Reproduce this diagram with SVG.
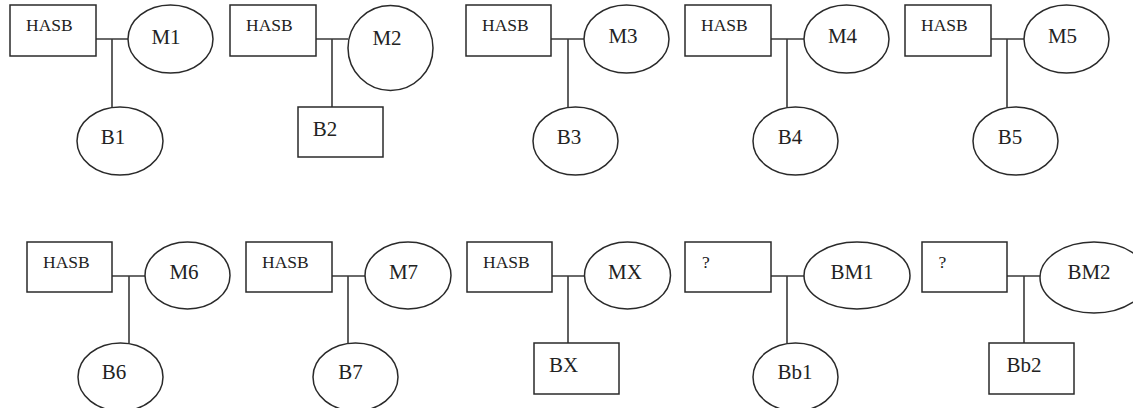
<svg xmlns="http://www.w3.org/2000/svg" width="1133" height="408" viewBox="0 0 1133 408">
  <style>
    .box { fill: #fff; stroke: #2a2a2a; stroke-width: 1.5; }
    .oval { fill: #fff; stroke: #2a2a2a; stroke-width: 1.5; }
    .wire { fill: none; stroke: #3a3a3a; stroke-width: 1.6; }
    .tag { font-family: "Liberation Serif", "Times New Roman", serif; font-size: 17.5px; fill: #222; }
    .lbl { font-family: "Liberation Serif", "Times New Roman", serif; font-size: 21px; fill: #222; text-anchor: middle; }
  </style>
  <rect width="1133" height="408" fill="#fff"/>

  <!-- connectors: horizontal link box→oval, vertical drop to child -->
  <g id="connectors">
    <path class="wire" d="M96 39H128M112 39V107"/>
    <path class="wire" d="M316 39H348M332 39V107"/>
    <path class="wire" d="M551 39H584M568 39V107"/>
    <path class="wire" d="M771 39H804M787 39V107"/>
    <path class="wire" d="M991 39H1024M1007 39V107"/>
    <path class="wire" d="M112 276H145M129 276V343"/>
    <path class="wire" d="M332 276H365M348 276V343"/>
    <path class="wire" d="M552 276H584M568 276V343"/>
    <path class="wire" d="M771 276H804M787 276V343"/>
    <path class="wire" d="M1007 276H1040M1024 276V343"/>
  </g>

  <!-- row 1 -->
  <g id="hasb1"><rect class="box" x="10" y="5" width="86" height="51"/><text class="tag" x="26" y="31">HASB</text></g>
  <g id="m1"><ellipse class="oval" cx="170.5" cy="39" rx="42.5" ry="34"/><text class="lbl" x="166" y="44">M1</text></g>
  <g id="b1"><ellipse class="oval" cx="120" cy="141" rx="43" ry="34"/><text class="lbl" x="113" y="144">B1</text></g>

  <g id="hasb2"><rect class="box" x="230" y="5" width="86" height="51"/><text class="tag" x="246" y="31">HASB</text></g>
  <g id="m2"><circle class="oval" cx="390.5" cy="48" r="42.5"/><text class="lbl" x="387" y="45">M2</text></g>
  <g id="b2"><rect class="box" x="298" y="107" width="85" height="50"/><text class="lbl" x="325" y="136">B2</text></g>

  <g id="hasb3"><rect class="box" x="466" y="5" width="85" height="51"/><text class="tag" x="482" y="31">HASB</text></g>
  <g id="m3"><ellipse class="oval" cx="626.5" cy="39" rx="42.5" ry="34"/><text class="lbl" x="623" y="43">M3</text></g>
  <g id="b3"><ellipse class="oval" cx="575.5" cy="141" rx="42.5" ry="34"/><text class="lbl" x="569" y="144">B3</text></g>

  <g id="hasb4"><rect class="box" x="685" y="5" width="86" height="51"/><text class="tag" x="701" y="31">HASB</text></g>
  <g id="m4"><ellipse class="oval" cx="846.5" cy="39" rx="42.5" ry="34"/><text class="lbl" x="842.5" y="43">M4</text></g>
  <g id="b4"><ellipse class="oval" cx="795.5" cy="141" rx="42.5" ry="34"/><text class="lbl" x="790" y="144">B4</text></g>

  <g id="hasb5"><rect class="box" x="905" y="5" width="86" height="51"/><text class="tag" x="921" y="31">HASB</text></g>
  <g id="m5"><ellipse class="oval" cx="1066.5" cy="39" rx="42.5" ry="34"/><text class="lbl" x="1062.5" y="43">M5</text></g>
  <g id="b5"><ellipse class="oval" cx="1015.5" cy="141" rx="42.5" ry="34"/><text class="lbl" x="1010" y="144">B5</text></g>

  <!-- row 2 -->
  <g id="hasb6"><rect class="box" x="27" y="242" width="85" height="50"/><text class="tag" x="43" y="268">HASB</text></g>
  <g id="m6"><ellipse class="oval" cx="187.5" cy="275.5" rx="42.5" ry="33.5"/><text class="lbl" x="184" y="279">M6</text></g>
  <g id="b6"><ellipse class="oval" cx="120.5" cy="377" rx="42.5" ry="34"/><text class="lbl" x="114" y="379">B6</text></g>

  <g id="hasb7"><rect class="box" x="246" y="242" width="86" height="50"/><text class="tag" x="262" y="268">HASB</text></g>
  <g id="m7"><ellipse class="oval" cx="408" cy="275.5" rx="43" ry="33.5"/><text class="lbl" x="403.5" y="279">M7</text></g>
  <g id="b7"><ellipse class="oval" cx="355.5" cy="377" rx="42.5" ry="34"/><text class="lbl" x="350.5" y="379">B7</text></g>

  <g id="hasbx"><rect class="box" x="467" y="242" width="85" height="50"/><text class="tag" x="483" y="268">HASB</text></g>
  <g id="mx"><ellipse class="oval" cx="627.5" cy="275.5" rx="43" ry="33.5"/><text class="lbl" x="625" y="279">MX</text></g>
  <g id="bx"><rect class="box" x="534" y="343" width="85" height="51"/><text class="lbl" x="563.5" y="372">BX</text></g>

  <g id="unknown1"><rect class="box" x="685" y="242" width="86" height="50"/><text class="tag" x="702" y="268">?</text></g>
  <g id="bm1"><ellipse class="oval" cx="857" cy="275.5" rx="53" ry="33.5"/><text class="lbl" x="852" y="279">BM1</text></g>
  <g id="bb1"><ellipse class="oval" cx="795.5" cy="377" rx="42.5" ry="34"/><text class="lbl" x="795" y="379">Bb1</text></g>

  <g id="unknown2"><rect class="box" x="922" y="242" width="85" height="50"/><text class="tag" x="938.5" y="268">?</text></g>
  <g id="bm2"><ellipse class="oval" cx="1094" cy="277.5" rx="54" ry="35.5"/><text class="lbl" x="1089" y="279">BM2</text></g>
  <g id="bb2"><rect class="box" x="989" y="343" width="85" height="51"/><text class="lbl" x="1024" y="372">Bb2</text></g>
</svg>
